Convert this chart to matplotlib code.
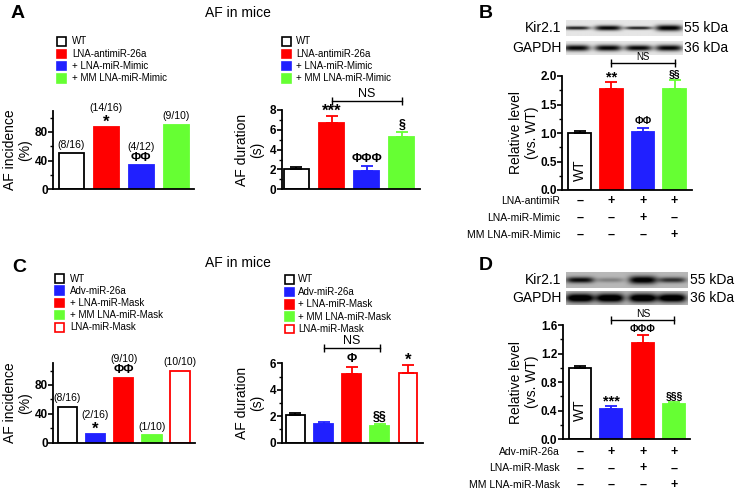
import numpy as np
import matplotlib
matplotlib.use('Agg')
import matplotlib.pyplot as plt
from matplotlib.patches import Rectangle

plt.rcParams['font.family'] = ['Liberation Sans', 'DejaVu Sans']

W, H = 742, 495
RED = '#ff0000'
BLUE = '#2020ff'
GREEN = '#66ff33'

# ---- data ----
a_groups = ['WT', 'LNA-antimiR-26a', '+ LNA-miR-Mimic', '+ MM LNA-miR-Mimic']
a_incidence = [50, 87.5, 33.3, 90]
a_frac = ['(8/16)', '(14/16)', '(4/12)', '(9/10)']
a_inc_sig = ['', '*', 'ΦΦ', '']
a_duration = [2.05, 6.7, 1.85, 5.25]
a_duration_err = [0.15, 0.7, 0.5, 0.5]
a_dur_sig = ['', '***', 'ΦΦΦ', '§']

b_level = [1.0, 1.78, 1.02, 1.78]
b_err = [0.03, 0.12, 0.07, 0.15]
b_sig = ['', '**', 'ΦΦ', '§§']
b_rows = ['LNA-antimiR', 'LNA-miR-Mimic', 'MM LNA-miR-Mimic']
b_signs = [['–', '+', '+', '+'], ['–', '–', '+', '–'], ['–', '–', '–', '+']]

c_groups = ['WT', 'Adv-miR-26a', '+ LNA-miR-Mask', '+ MM LNA-miR-Mask', 'LNA-miR-Mask']
c_incidence = [50, 12.5, 90, 10, 100]
c_frac = ['(8/16)', '(2/16)', '(9/10)', '(1/10)', '(10/10)']
c_inc_sig = ['', '*', 'ΦΦ', '', '']
c_duration = [2.1, 1.38, 5.18, 1.26, 5.24]
c_duration_err = [0.16, 0.2, 0.55, 0.15, 0.65]
c_dur_sig = ['', '', 'Φ', '§§', '*']

d_level = [1.0, 0.43, 1.35, 0.49]
d_err = [0.03, 0.04, 0.11, 0.03]
d_sig = ['', '***', 'ΦΦΦ', '§§§']
d_rows = ['Adv-miR-26a', 'LNA-miR-Mask', 'MM LNA-miR-Mask']
d_signs = [['–', '+', '+', '+'], ['–', '–', '+', '–'], ['–', '–', '–', '+']]

# blot band strengths / thickness per lane
b_kir = [0.8, 0.9, 0.8, 0.95]
b_kir_t = [0.22, 0.32, 0.2, 0.38]
b_gapdh = [0.9, 0.9, 0.9, 0.9]
b_gapdh_t = [0.45, 0.45, 0.42, 0.45]
d_kir = [0.7, 0.22, 0.8, 0.55]
d_kir_t = [0.38, 0.3, 0.5, 0.35]
d_gapdh = [0.95, 0.95, 0.95, 0.95]
d_gapdh_t = [0.62, 0.62, 0.62, 0.6]

a_fill = ['white', RED, BLUE, GREEN]
a_edge = ['black', RED, BLUE, GREEN]
c_fill = ['white', BLUE, RED, GREEN, 'white']
c_edge = ['black', BLUE, RED, GREEN, RED]
d_fill = ['white', BLUE, RED, GREEN]
d_edge = ['black', BLUE, RED, GREEN]

fig = plt.figure(figsize=(W / 100, H / 100), dpi=100)


def px_axes(x0, y0, x1, y1):
    return fig.add_axes([x0 / W, 1 - y1 / H, (x1 - x0) / W, (y1 - y0) / H])


def ftext(x, y, s, **kw):
    fig.text(x / W, 1 - y / H, s, **kw)


def bar_panel(box, vals, errs, fills, edges, ylim, major, minor, ylabel, label_x, xlim, width,
              ticklabels=None):
    ax = px_axes(*box)
    x = np.arange(len(vals))
    ax.bar(x, vals, width=width, color=fills, edgecolor=edges, linewidth=1.3, zorder=2)
    if errs is not None:
        for xi, v, e, c in zip(x, vals, errs, edges):
            ax.errorbar(xi, v, yerr=[[0], [e]], fmt='none', ecolor=c, elinewidth=1.3,
                        capsize=4, capthick=1.3, zorder=3)
    ax.set_xlim(*xlim)
    ax.set_ylim(*ylim)
    ax.set_yticks(major)
    if ticklabels is not None:
        ax.set_yticklabels(ticklabels)
    ax.set_yticks(minor, minor=True)
    ax.set_xticks([])
    for s in ['top', 'right']:
        ax.spines[s].set_visible(False)
    for s in ['left', 'bottom']:
        ax.spines[s].set_linewidth(1.3)
    ax.tick_params(axis='y', which='major', length=3.5, width=1.2, pad=0.5)
    ax.tick_params(axis='y', which='minor', length=2.5, width=1.0)
    for t in ax.get_yticklabels():
        t.set_fontweight('bold')
        t.set_fontsize(8.5)
    ax.set_ylabel(ylabel, fontsize=10, linespacing=1.1, va='center')
    ax.yaxis.set_label_coords((label_x - box[0]) / (box[2] - box[0]), 0.5)
    ax.patch.set_alpha(0)
    return ax


def marks(ax, tops, sig, frac=None, sig_size=9):
    for i, (t, s) in enumerate(zip(tops, sig)):
        if s:
            size = sig_size + 3 if '*' in s else sig_size
            dy = -2 if '*' in s else 1
            ax.annotate(s, xy=(i, t), xytext=(0, dy), textcoords='offset points',
                        ha='center', va='bottom', fontsize=size, fontweight='bold',
                        annotation_clip=False)
        if frac is not None:
            off = 10 if s else 2.5
            ax.annotate(frac[i], xy=(i, t), xytext=(0, off), textcoords='offset points',
                        ha='center', va='bottom', fontsize=7.5, annotation_clip=False)


def ns_bracket(ax, x1, x2, y, size=8.5):
    ax.plot([x1, x2], [y, y], color='black', lw=1, marker='|', ms=6, mew=1, clip_on=False)
    ax.annotate('NS', xy=((x1 + x2) / 2, y), xytext=(0, 0.5), textcoords='offset points',
                ha='center', va='bottom', fontsize=size, annotation_clip=False)


def legend(x_box, x_text, y0, dy, labels, fills, edges):
    for i, (lab, f, e) in enumerate(zip(labels, fills, edges)):
        y = y0 + i * dy
        fig.patches.append(Rectangle((x_box / W, 1 - (y + 4.2) / H), 8.5 / W, 8.5 / H,
                                     facecolor=f, edgecolor=e, linewidth=1.2,
                                     transform=fig.transFigure))
        ftext(x_text, y, lab, fontsize=7, va='center', ha='left')


def blot(box, strength, thick, centers, bg):
    ax = px_axes(*box)
    w = int(box[2] - box[0]) * 4
    h = int(box[3] - box[1]) * 4
    xx = np.linspace(0, 1, w)[None, :]
    yy = np.linspace(-1, 1, h)[:, None]
    img = np.full((h, w), bg)
    for c, s, t in zip(centers, strength, thick):
        img = img - s * np.exp(-((xx - c) / 0.115) ** 4) * np.exp(-(yy / t) ** 2)
    ax.imshow(np.clip(img, 0, 1), cmap='gray', vmin=0, vmax=1, aspect='auto',
              interpolation='bilinear')
    ax.axis('off')


def sign_table(ax, rows, signs, offsets, label_x, bottom_y):
    for lab, row, off in zip(rows, signs, offsets):
        ftext(label_x, bottom_y + off, lab, fontsize=7.5, ha='right', va='center')
        for i, s in enumerate(row):
            ax.annotate(s, xy=(i, 0), xycoords=('data', 'axes fraction'),
                        xytext=(0, -off * 0.72), textcoords='offset points',
                        ha='center', va='center', fontsize=9, fontweight='bold',
                        annotation_clip=False)


# ---- panel A ----
ftext(18, 13, 'A', fontsize=14, fontweight='bold', ha='center', va='center')
ftext(238, 13, 'AF in mice', fontsize=10, ha='center', va='center')
legend(57, 72, 41.5, 12.3, a_groups, a_fill, a_edge)
legend(282, 296, 41.5, 12.3, a_groups, a_fill, a_edge)

ax = bar_panel((53.3, 110.5, 194, 189.3), a_incidence, None, a_fill, a_edge, (0, 110),
               [0, 40, 80], [20, 60, 100], 'AF incidence\n(%)', 18, (-0.51, 3.5), 0.71)
marks(ax, a_incidence, a_inc_sig, a_frac)

ax = bar_panel((281.7, 110, 420, 189.3), a_duration, a_duration_err, a_fill, a_edge, (0, 8),
               [0, 2, 4, 6, 8], [1, 3, 5, 7], 'AF duration\n(s)', 250, (-0.42, 3.52), 0.7)
marks(ax, np.add(a_duration, a_duration_err), a_dur_sig)
ns_bracket(ax, 1, 3, 8.93, 9)

# ---- panel B ----
ftext(486, 13, 'B', fontsize=14, fontweight='bold', ha='center', va='center')
lanes_b = [0.09, 0.36, 0.62, 0.88]
blot((566, 20, 682.7, 36), b_kir, b_kir_t, lanes_b, 0.9)
blot((566, 41, 682.7, 55), b_gapdh, b_gapdh_t, lanes_b, 0.9)
ftext(561.7, 28, 'Kir2.1', fontsize=10, ha='right', va='center')
ftext(561.7, 48, 'GAPDH', fontsize=10, ha='right', va='center')
ftext(684, 28, '55 kDa', fontsize=10, ha='left', va='center')
ftext(684, 48, '36 kDa', fontsize=10, ha='left', va='center')

ax = bar_panel((562.3, 76, 691.7, 190), b_level, b_err, a_fill, a_edge, (0, 2.0),
               [0, 0.5, 1.0, 1.5, 2.0], [0.25, 0.75, 1.25, 1.75], 'Relative level\n(vs. WT)',
               524, (-0.55, 3.54), 0.71, ['0.0', '0.5', '1.0', '1.5', '2.0'])
marks(ax, np.add(b_level, b_err), b_sig, sig_size=7.5)
ns_bracket(ax, 1, 3, 2.23, 7)
ax.text(0, 0.35, 'WT', rotation=90, ha='center', va='center', fontsize=10)
sign_table(ax, b_rows, b_signs, [11, 28, 45], 560, 190)

# ---- panel C ----
ftext(19, 267, 'C', fontsize=14, fontweight='bold', ha='center', va='center')
ftext(238, 262.7, 'AF in mice', fontsize=10, ha='center', va='center')
legend(55, 70, 278.5, 12.2, c_groups, c_fill, c_edge)
legend(285, 298, 279.5, 12.4, c_groups, c_fill, c_edge)

ax = bar_panel((53.3, 363.3, 195, 442.7), c_incidence, None, c_fill, c_edge, (0, 110),
               [0, 40, 80], [20, 60, 100], 'AF incidence\n(%)', 18, (-0.5, 4.53), 0.69)
marks(ax, c_incidence, c_inc_sig, c_frac)

ax = bar_panel((281.7, 363.3, 422.7, 442.7), c_duration, c_duration_err, c_fill, c_edge,
               (0, 6), [0, 2, 4, 6], [1, 3, 5], 'AF duration\n(s)', 250, (-0.49, 4.52), 0.67)
marks(ax, np.add(c_duration, c_duration_err), c_dur_sig)
ns_bracket(ax, 1, 3, 7.17, 9)

# ---- panel D ----
ftext(486, 265, 'D', fontsize=14, fontweight='bold', ha='center', va='center')
lanes_d = [0.115, 0.36, 0.63, 0.87]
blot((566, 271.7, 688, 287.7), d_kir, d_kir_t, lanes_d, 0.72)
blot((566, 291, 688, 305), d_gapdh, d_gapdh_t, lanes_d, 0.72)
ftext(561.7, 280, 'Kir2.1', fontsize=10, ha='right', va='center')
ftext(561.7, 298, 'GAPDH', fontsize=10, ha='right', va='center')
ftext(690, 280, '55 kDa', fontsize=10, ha='left', va='center')
ftext(690, 298, '36 kDa', fontsize=10, ha='left', va='center')

ax = bar_panel((562.7, 325, 690, 439.3), d_level, d_err, d_fill, d_edge, (0, 1.6),
               [0, 0.4, 0.8, 1.2, 1.6], [0.2, 0.6, 1.0, 1.4], 'Relative level\n(vs. WT)',
               524, (-0.55, 3.5), 0.7, ['0.0', '0.4', '0.8', '1.2', '1.6'])
marks(ax, np.add(d_level, d_err), d_sig, sig_size=7.5)
ns_bracket(ax, 1, 3, 1.67, 7.5)
ax.text(0, 0.41, 'WT', rotation=90, ha='center', va='center', fontsize=10)
sign_table(ax, d_rows, d_signs, [12.4, 29, 45.7], 560, 439.3)

fig.savefig('out.png', dpi=100)
